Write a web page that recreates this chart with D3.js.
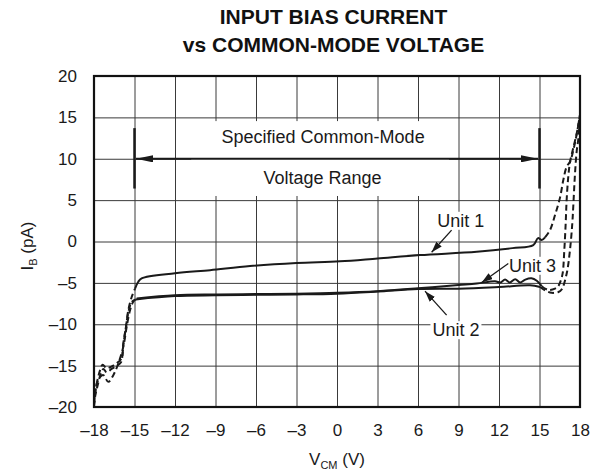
<!DOCTYPE html>
<html><head><meta charset="utf-8">
<script src="https://cdn.jsdelivr.net/npm/d3@7"></script>
<style>body{margin:0;background:#fff}svg{display:block;font-family:"Liberation Sans",Arial,Helvetica,sans-serif}</style>
</head><body><svg id="c" width="600" height="472"></svg>
<script>
const titleLines = ["INPUT BIAS CURRENT", "vs COMMON-MODE VOLTAGE"];
const xTicks = [-18, -15, -12, -9, -6, -3, 0, 3, 6, 9, 12, 15, 18];
const yTicks = [-20, -15, -10, -5, 0, 5, 10, 15, 20];

// Unit 1 (upper curve): dashed outside spec range, solid inside
const unit1Left = [[-18,-19.6],[-17.93,-18.6],[-17.8,-17.2],[-17.56,-15.6],[-17.36,-14.9],[-17.06,-15.3],[-16.69,-15.1],[-16.32,-14.7],[-15.95,-14.1],[-15.83,-12.3],[-15.63,-10.3],[-15.46,-8.3],[-15.21,-6.7],[-14.96,-5.7]];
const unit1Mid = [[-14.96,-5.7],[-14.72,-4.87],[-14.47,-4.46],[-12,-3.85],[-9.4,-3.46],[-6.44,-2.97],[-3,-2.6],[0.22,-2.4],[3,-2.05],[6.15,-1.64],[10.35,-1.24],[13,-0.8],[14.54,-0.44],[14.89,0.41],[15.16,0.17],[15.41,0.5]];
const unit1Right = [[15.41,0.5],[15.78,1.38],[16.15,3.2],[16.52,5.3],[16.76,7.4],[17.01,9.03],[17.26,9.64],[17.5,11.0],[17.76,13.0],[18,15.3]];

// Unit 2 (lowest curve)
const unit2Left = [[-18,-20],[-17.9,-18.6],[-17.7,-17.2],[-17.5,-16.0],[-17.3,-15.4],[-17.06,-15.8],[-16.7,-15.4],[-16.3,-15.0],[-16.0,-14.6],[-15.85,-12.8],[-15.65,-10.5],[-15.45,-8.5],[-15.2,-7.3],[-14.9,-7.0]];
const unit2Mid = [[-14.9,-7.0],[-12,-6.6],[-9,-6.5],[-6,-6.45],[-3,-6.4],[0,-6.3],[3,-6.05],[6,-5.75],[9,-5.7],[12,-5.5],[14.3,-5.3],[15.04,-5.5]];
const unit2Right = [[15.04,-5.5],[15.41,-5.9],[15.9,-6.2],[16.4,-6.1],[16.64,-5.8],[17.01,-3.9],[17.26,-1.0],[17.43,2.2],[17.5,4.2],[17.63,8.2],[17.76,11.0],[17.87,12.3],[18,15.0]];

// Unit 3 (middle curve, with ripple near +15 V)
const unit3Left = [[-18,-19.8],[-17.85,-17.5],[-17.56,-16.4],[-17.31,-16.15],[-16.94,-16.96],[-16.57,-16.15],[-16.2,-14.74],[-15.83,-12.73],[-15.58,-10.31],[-15.33,-8.3],[-15.09,-7.29],[-14.84,-6.88]];
const unit3Mid = [[-14.84,-6.88],[-12,-6.5],[-9,-6.4],[-6,-6.35],[-3,-6.3],[0,-6.2],[3,-6.0],[6,-5.65],[9,-5.25],[10.35,-5.07],[11.7,-4.8],[12.1,-4.95],[12.45,-4.6],[12.8,-4.95],[13.2,-4.55],[13.56,-4.95],[13.95,-4.6],[14.4,-4.45],[14.8,-4.75],[15.16,-5.4]];
const unit3Right = [[15.16,-5.4],[15.65,-5.85],[16.15,-5.7],[16.39,-5.4],[16.6,-4.6],[16.72,-3.8],[16.84,-1.0],[16.94,2.2],[17.01,5.0],[17.13,7.8],[17.26,9.6],[17.5,11.3],[17.76,13.1],[18,15.3]];

const specRange = [-15, 15];
const specBarSpan = [6.4, 13.7];
const specArrowY = 10;
const specText = [{t:"Specified Common-Mode", x:-1.03, y:11.96}, {t:"Voltage Range", x:-1.07, y:6.94}];
const specBox = {x0:-10.8, x1:8.3, y0:14.55, y1:5.5};

const unitLabels = [
  {t:"Unit 1", x:9.17, y:1.78, from:[8.49,1.38], to:[7.01,-1.3]},
  {t:"Unit 2", x:8.81, y:-11.44, from:[8.12,-8.9], to:[6.52,-6.0]},
  {t:"Unit 3", x:14.48, y:-3.66, from:[12.69,-2.65], to:[10.72,-4.95]}
];

const svg = d3.select("#c");
const L = 94, R = 580, T = 76, B = 407;
const x = d3.scaleLinear().domain([-18, 18]).range([L, R]);
const y = d3.scaleLinear().domain([-20, 20]).range([B, T]);
const ink = "#1a1a1a";

// defs: arrowheads
const defs = svg.append("defs");
function mk(id, len, hw) {
  defs.append("marker").attr("id", id).attr("viewBox", "0 0 10 10")
    .attr("refX", 10).attr("refY", 5).attr("markerUnits", "userSpaceOnUse")
    .attr("markerWidth", len).attr("markerHeight", hw * 2)
    .attr("preserveAspectRatio", "none").attr("orient", "auto-start-reverse")
    .append("path").attr("d", "M0,0L10,5L0,10Z").attr("fill", ink);
}
mk("bigArrow", 17, 3.6);
mk("smallArrow", 11, 3.6);

// Title
svg.append("g").selectAll("text").data(titleLines).join("text")
  .attr("x", 333.5).attr("y", (d, i) => 23.5 + i * 28.3)
  .attr("text-anchor", "middle").attr("font-weight", "bold").attr("font-size", 21)
  .attr("fill", "#111").text(d => d);

// Grid
svg.append("g").attr("transform", `translate(0,${B})`)
  .call(d3.axisBottom(x).tickValues(xTicks).tickSize(-(B - T)).tickFormat(""))
  .call(g => g.select(".domain").remove())
  .call(g => g.selectAll("line").attr("stroke", "#3a3a3a").attr("stroke-width", 1));
svg.append("g").attr("transform", `translate(${L},0)`)
  .call(d3.axisLeft(y).tickValues(yTicks).tickSize(-(R - L)).tickFormat(""))
  .call(g => g.select(".domain").remove())
  .call(g => g.selectAll("line").attr("stroke", "#3a3a3a").attr("stroke-width", 1));

// Tick labels
const fmt = d => (d < 0 ? "\u2013" + Math.abs(d) : String(d));
svg.append("g").attr("transform", `translate(0,${B})`)
  .call(d3.axisBottom(x).tickValues(xTicks).tickSize(0).tickPadding(17).tickFormat(fmt))
  .call(g => g.select(".domain").remove())
  .call(g => g.selectAll("text").attr("font-size", 17).attr("fill", "#1a1a1a")
    .attr("font-family", '"Liberation Sans",Arial,sans-serif'));
svg.append("g").attr("transform", `translate(${L},0)`)
  .call(d3.axisLeft(y).tickValues(yTicks).tickSize(0).tickPadding(17).tickFormat(fmt))
  .call(g => g.select(".domain").remove())
  .call(g => g.selectAll("text").attr("font-size", 17).attr("fill", "#1a1a1a")
    .attr("font-family", '"Liberation Sans",Arial,sans-serif'));

// Axis titles
const xt = svg.append("text").attr("x", 337).attr("y", 465).attr("text-anchor", "middle")
  .attr("font-size", 17).attr("fill", "#1a1a1a");
xt.append("tspan").text("V");
xt.append("tspan").attr("font-size", 11).attr("dy", 4).text("CM");
xt.append("tspan").attr("dy", -4).text(" (V)");
const yt = svg.append("text").attr("transform", "translate(33,246) rotate(-90)")
  .attr("text-anchor", "middle").attr("font-size", 17).attr("fill", "#1a1a1a");
yt.append("tspan").text("I");
yt.append("tspan").attr("font-size", 11).attr("dy", 4).text("B");
yt.append("tspan").attr("dy", -4).text(" (pA)");

// Spec range annotation
svg.append("rect").attr("x", x(specBox.x0)).attr("y", y(specBox.y0))
  .attr("width", x(specBox.x1) - x(specBox.x0)).attr("height", y(specBox.y1) - y(specBox.y0))
  .attr("fill", "#fff");
svg.append("g").selectAll("text").data(specText).join("text")
  .attr("x", d => x(d.x)).attr("y", d => y(d.y)).attr("text-anchor", "middle")
  .attr("font-size", 18).attr("fill", "#1a1a1a").text(d => d.t);
svg.append("line").attr("x1", x(specRange[0]) + 1.5).attr("x2", x(specRange[1]) - 1.5)
  .attr("y1", y(specArrowY)).attr("y2", y(specArrowY))
  .attr("stroke", ink).attr("stroke-width", 2.2)
  .attr("marker-start", "url(#bigArrow)").attr("marker-end", "url(#bigArrow)");
svg.append("g").selectAll("line").data(specRange).join("line")
  .attr("x1", d => x(d)).attr("x2", d => x(d))
  .attr("y1", y(specBarSpan[0])).attr("y2", y(specBarSpan[1]))
  .attr("stroke", ink).attr("stroke-width", 2.5);

// Curves
const line = d3.line().x(d => x(d[0])).y(d => y(d[1])).curve(d3.curveCatmullRom.alpha(0.5));
const cg = svg.append("g").attr("fill", "none").attr("stroke", ink).attr("stroke-linejoin", "round");
const curves = [
  [unit2Left, true], [unit2Mid, false], [unit2Right, true],
  [unit3Left, true], [unit3Mid, false], [unit3Right, true],
  [unit1Left, true], [unit1Mid, false], [unit1Right, true]
];
curves.forEach(([pts, dashed]) => {
  cg.append("path").attr("d", line(pts)).attr("stroke-width", 2)
    .attr("stroke-dasharray", dashed ? "6,3.5" : null);
});

// Unit labels with leaders
unitLabels.forEach(u => {
  const lg = svg.append("g");
  const r = lg.append("rect").attr("fill", "#fff");
  const t = lg.append("text").attr("x", x(u.x)).attr("y", y(u.y)).attr("text-anchor", "middle")
    .attr("font-size", 18).attr("fill", "#1a1a1a").text(u.t);
  const bb = t.node().getBBox();
  r.attr("x", bb.x - 2).attr("y", bb.y + 1).attr("width", bb.width + 4).attr("height", bb.height - 2);
  lg.append("line").attr("x1", x(u.from[0])).attr("y1", y(u.from[1]))
    .attr("x2", x(u.to[0])).attr("y2", y(u.to[1]))
    .attr("stroke", ink).attr("stroke-width", 1.3).attr("marker-end", "url(#smallArrow)");
});

// Frame
svg.append("rect").attr("x", L).attr("y", T).attr("width", R - L).attr("height", B - T)
  .attr("fill", "none").attr("stroke", "#111").attr("stroke-width", 2.2);
</script></body></html>
